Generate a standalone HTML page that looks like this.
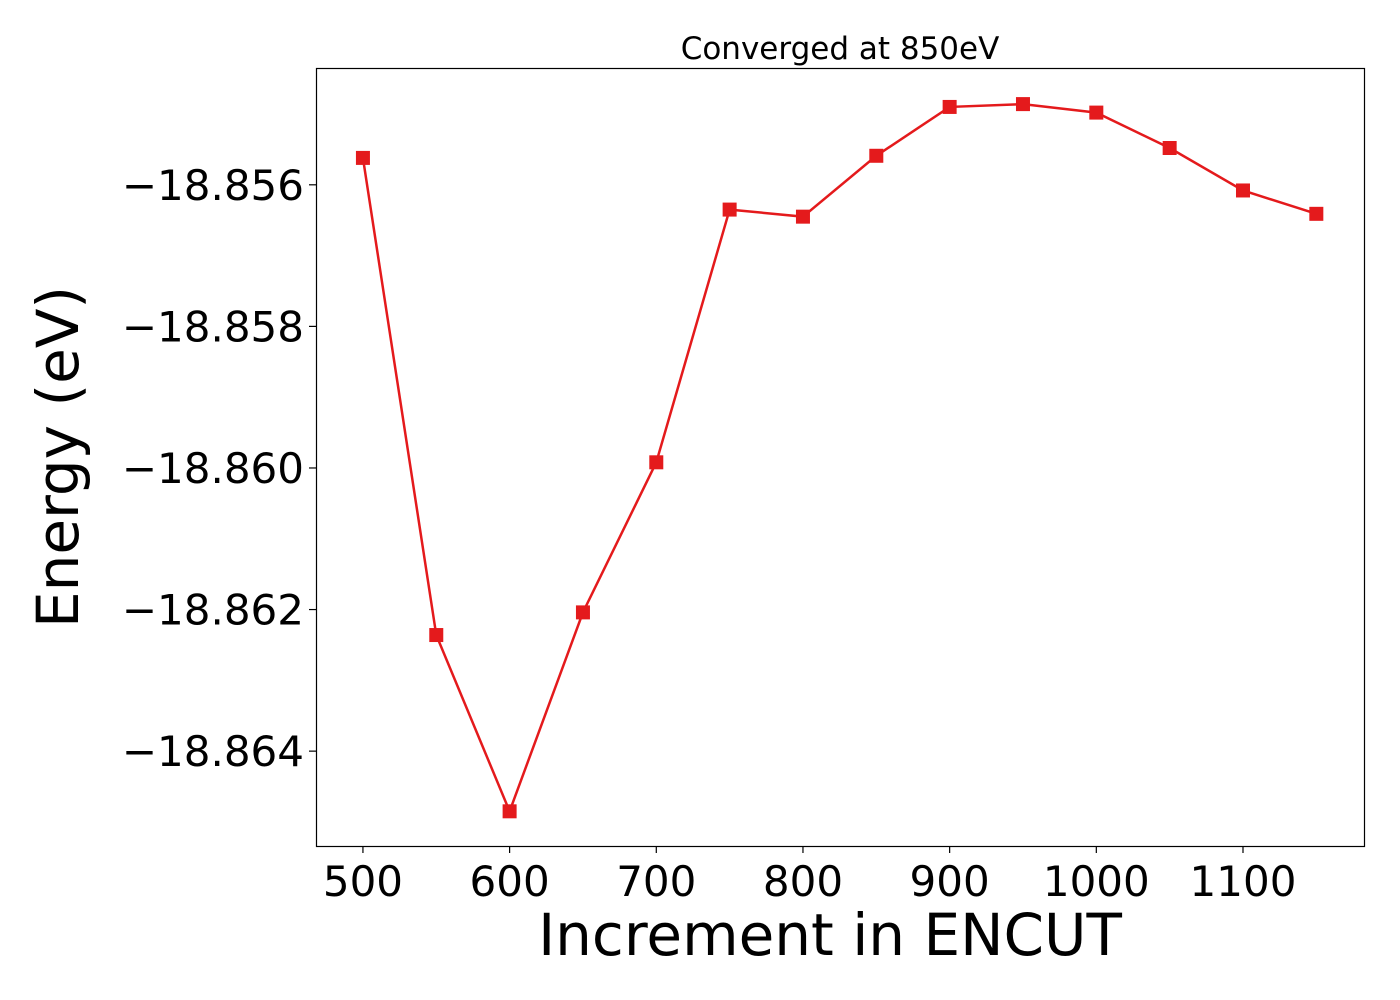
<!DOCTYPE html>
<html><head><meta charset="utf-8"><style>
html,body{margin:0;padding:0;background:#fff;}
svg{display:block;font-family:"DejaVu Sans","Liberation Sans",sans-serif;}
</style></head><body>
<svg id="chart" width="1400" height="1000">
<text x="840" y="59" font-size="31" text-anchor="middle">Converged at 850eV</text>
<rect x="316.5" y="68.5" width="1048" height="778" fill="none" stroke="#000" stroke-width="1.2"/>
<g id="xt"></g><g id="yt"></g><g id="series"></g>
<text x="830" y="955" font-size="58" text-anchor="middle">Increment in ENCUT</text>
<text transform="translate(78,457) rotate(-90)" font-size="58" text-anchor="middle">Energy (eV)</text>
</svg>
<script>
const encut=[500,550,600,650,700,750,800,850,900,950,1000,1050,1100,1150];
const energy=[-18.85562,-18.86236,-18.86485,-18.86204,-18.85992,-18.85635,-18.85645,-18.85559,-18.8549,-18.85486,-18.85498,-18.85548,-18.85608,-18.85641];
const xTicks=[500,600,700,800,900,1000,1100];
const yTicks=[-18.856,-18.858,-18.860,-18.862,-18.864];
const yTickLabels=["\u221218.856","\u221218.858","\u221218.860","\u221218.862","\u221218.864"];
const L=316,R=1364,T=68,B=846,x0=468,x1=1182.5,y0=-18.86534,y1=-18.85435;
const X=v=>L+(v-x0)/(x1-x0)*(R-L);
const Y=v=>B-(v-y0)/(y1-y0)*(B-T);
const NS="http://www.w3.org/2000/svg";
function mk(t,a,p){const e=document.createElementNS(NS,t);for(const k in a)e.setAttribute(k,a[k]);p.appendChild(e);return e;}
const xt=document.getElementById('xt'),yt=document.getElementById('yt'),s=document.getElementById('series');
xTicks.forEach(v=>{
 const l=mk('line',{x1:X(v),x2:X(v),y1:B,y2:B+7,stroke:'#000','stroke-width':1.2},xt);
 
 
 const t=mk('text',{x:X(v),y:B+50,'font-size':42,'text-anchor':'middle'},xt);t.textContent=v;
 
 
});
yTicks.forEach((v,i)=>{
 const l=mk('line',{x1:L-7,x2:L,y1:Y(v),y2:Y(v),stroke:'#000','stroke-width':1.2},yt);
 
 
 const t=mk('text',{x:L-12,y:Y(v)+15,'font-size':42,'text-anchor':'end'},yt);t.textContent=yTickLabels[i];
 
 
});
const pl=mk('polyline',{points:encut.map((v,i)=>X(v)+','+Y(energy[i])).join(' '),fill:'none',stroke:'#e41a1c','stroke-width':2.5},s);


encut.forEach((v,i)=>{
 const r=mk('rect',{x:X(v)-7,y:Y(energy[i])-7,width:14,height:14,fill:'#e41a1c'},s);
 
 
});
</script>
</body></html>
